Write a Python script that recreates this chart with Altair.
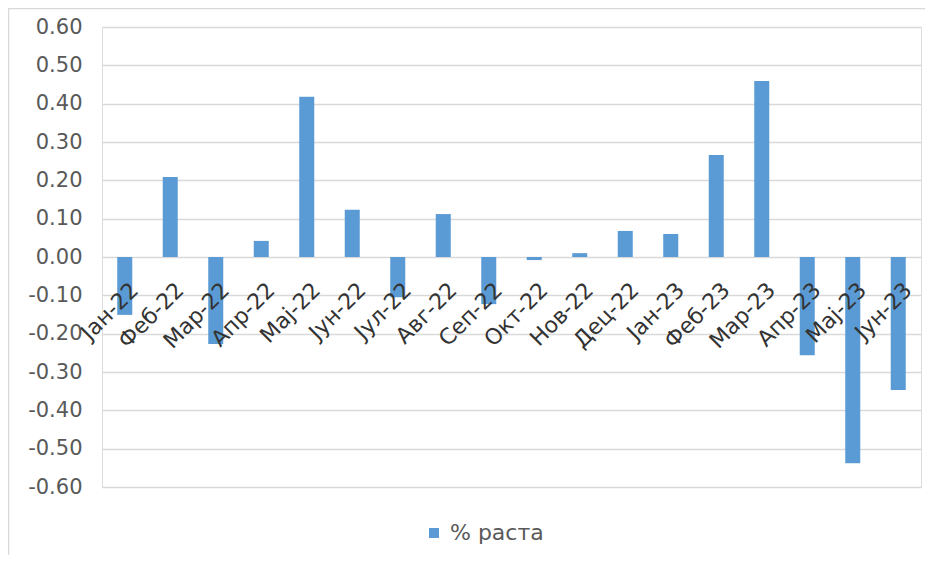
import altair as alt
import pandas as pd

months = ["Јан-22", "Феб-22", "Мар-22", "Апр-22", "Мај-22", "Јун-22", "Јул-22", "Авг-22",
          "Сеп-22", "Окт-22", "Нов-22", "Дец-22", "Јан-23", "Феб-23", "Мар-23", "Апр-23",
          "Мај-23", "Јун-23"]
values = [-0.151, 0.209, -0.227, 0.042, 0.418, 0.123, -0.105, 0.112,
          -0.123, -0.008, 0.010, 0.068, 0.060, 0.266, 0.459, -0.256,
          -0.538, -0.347]
series_name = "% раста"
y_ticks = [-0.6, -0.5, -0.4, -0.3, -0.2, -0.1, 0.0, 0.1, 0.2, 0.3, 0.4, 0.5, 0.6]

df = pd.DataFrame({"month": months, "value": values, "series": [series_name] * len(months)})

W, H = 819, 460
FONT = "DejaVu Sans"

bars = alt.Chart(df).mark_bar(color="#5B9BD5").encode(
    x=alt.X("month:N", sort=months,
            scale=alt.Scale(paddingInner=0.67, paddingOuter=0.335),
            axis=alt.Axis(title=None, orient="bottom", offset=-H / 2, domain=False, ticks=False,
                          grid=False, labelAngle=-45, labelAlign="right", labelBaseline="top",
                          labelFontSize=22, labelFont=FONT,
                          labelColor="#333333", labelPadding=22, labelOffset=3, zindex=1,
                          labelOverlap=False)),
    y=alt.Y("value:Q", scale=alt.Scale(domain=[-0.6, 0.6], nice=False, zero=False),
            axis=alt.Axis(title=None, values=y_ticks, domain=False, ticks=False,
                          labelExpr="datum.value < -0.0001 ? '-' + format(-datum.value, '.2f') : format(abs(datum.value), '.2f')",
                          grid=True, gridColor="#D9D9D9", gridWidth=1.5,
                          labelFontSize=21, labelFont=FONT, labelColor="#595959",
                          labelPadding=20)),
    color=alt.Color("series:N", scale=alt.Scale(range=["#5B9BD5"]),
                    legend=alt.Legend(title=None, orient="none", legendX=321, legendY=495,
                                      symbolType="square", symbolSize=100,
                                      labelFontSize=22, labelFont=FONT, labelColor="#595959",
                                      labelOffset=5, symbolStrokeWidth=0)),
)

border = alt.Chart(pd.DataFrame({"a": [0]})).mark_rect(
    fill=None, stroke="#D9D9D9", strokeWidth=1.5
).encode(
    x=alt.value(-93.5), x2=alt.value(W + 40),
    y=alt.value(-18.5), y2=alt.value(H + 100),
)

chart = alt.layer(border, bars).properties(
    width=W, height=H,
    autosize=alt.AutoSizeParams(type="none"),
    padding={"left": 94, "top": 19, "right": 4, "bottom": 68},
).configure_view(stroke=None).configure(background="white")

chart.save("out.html", embed_options={"renderer": "svg", "actions": False})
